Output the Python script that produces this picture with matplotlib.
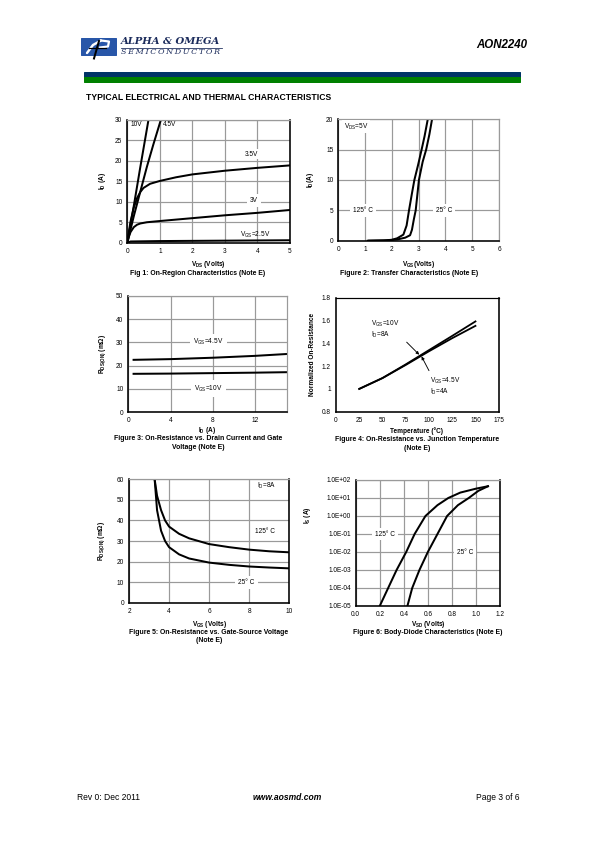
import matplotlib
matplotlib.use("Agg")
import matplotlib.pyplot as plt
from matplotlib.patches import Rectangle
from matplotlib.lines import Line2D

plt.rcParams['font.family'] = ['Liberation Sans', 'DejaVu Sans']
plt.rcParams['mathtext.default'] = 'regular'

W, H = 595, 842
GRID = '#9a9a9a'

# ---- data ----
# Fig 1: on-region characteristics, VDS (V) vs ID (A)
vds_10v = [0, 0.2, 0.4, 0.65]
id_10v = [0, 9, 18.5, 30]
vds_45v = [0, 0.2, 0.4, 0.6, 0.8, 1.03]
id_45v = [0, 6.5, 12.5, 18.5, 24, 30]
vds_35v = [0, 0.05, 0.1, 0.2, 0.3, 0.4, 0.5, 0.7, 1.0, 1.5, 2, 3, 4, 5]
id_35v = [0, 2.8, 5.2, 8.6, 10.9, 12.4, 13.4, 14.4, 15.1, 16.0, 16.7, 17.6, 18.3, 18.9]
vds_3v = [0, 0.05, 0.1, 0.2, 0.3, 0.4, 0.6, 1, 2, 3, 4, 5]
id_3v = [0, 1.5, 2.6, 3.8, 4.4, 4.7, 5.0, 5.3, 6.0, 6.7, 7.3, 8.0]
vds_25v = [0, 0.1, 1, 3, 5]
id_25v = [0, 0.3, 0.4, 0.5, 0.6]

# Fig 2: transfer characteristics, VGS (V) vs ID (A)
vgs_25c = [1.15, 1.8, 2.2, 2.5, 2.68, 2.75, 2.82, 2.89, 3.01, 3.15, 3.28, 3.4, 3.5]
id_25c = [0, 0.05, 0.2, 0.5, 0.9, 1.8, 3.5, 5, 10, 13, 15, 17.5, 20]
vgs_125c = [1.1, 1.7, 2.0, 2.2, 2.43, 2.55, 2.64, 2.75, 2.84, 2.98, 3.11, 3.22, 3.34]
id_125c = [0, 0.05, 0.15, 0.4, 1.0, 2.5, 5, 7.8, 10, 12.5, 15, 17.2, 20]

# Fig 3: RDS(ON) (mOhm) vs ID (A)
id_f3 = [0.5, 4, 8, 12, 15]
rds_45v = [22.5, 22.8, 23.4, 24.2, 25.0]
rds_10v = [16.5, 16.6, 16.8, 17.0, 17.2]

# Fig 4: normalized on-resistance vs temperature (C)
temp = [25, 50, 75, 100, 125, 150]
rn_10v = [1.0, 1.095, 1.215, 1.34, 1.465, 1.592]
rn_45v = [1.0, 1.095, 1.21, 1.33, 1.445, 1.553]

# Fig 5: RDS(ON) (mOhm) vs VGS (V), ID=8A
vgs_f5 = [3.28, 3.4, 3.6, 3.8, 4, 4.5, 5, 6, 7, 8, 9, 10]
rds_125c = [60, 52, 45, 40, 37, 33.5, 31.3, 28.5, 27, 25.8, 25, 24.5]
rds_25c = [60, 45, 35, 30, 27, 23.5, 21.5, 19.5, 18.4, 17.6, 17.1, 16.7]

# Fig 6: body-diode characteristics, VSD (V) vs IS (A)
vsd_125c = [0.2, 0.27, 0.34, 0.42, 0.49, 0.58, 0.68, 0.77, 0.87, 1.0, 1.1]
is_125c = [1e-5, 1e-4, 1e-3, 1e-2, 1e-1, 1e0, 4e0, 1e1, 2e1, 3.3e1, 4.5e1]
vsd_25c = [0.43, 0.47, 0.53, 0.60, 0.68, 0.76, 0.85, 0.94, 1.02, 1.1]
is_25c = [1e-5, 1e-4, 1e-3, 1e-2, 1e-1, 1e0, 4e0, 1e1, 2.5e1, 4.5e1]
f6_yticks = [1e-5, 1e-4, 1e-3, 1e-2, 1e-1, 1e0, 1e1, 1e2]
f6_ylabels = ['1.0E-05', '1.0E-04', '1.0E-03', '1.0E-02', '1.0E-01',
              '1.0E+00', '1.0E+01', '1.0E+02']

fig = plt.figure(figsize=(W / 72, H / 72), dpi=72)

TICK = 6.5
LBL = 6.5
CAP = 6.9


def px_axes(x0, y0, x1, y1):
    return fig.add_axes([x0 / W, 1 - y1 / H, (x1 - x0) / W, (y1 - y0) / H])


def ftext(x, y, s, **kw):
    kw.setdefault('fontsize', CAP)
    kw.setdefault('ha', 'center')
    kw.setdefault('va', 'center')
    fig.text(x / W, 1 - y / H, s, **kw)


def style(ax, grid=True, right='black'):
    for side in ['left', 'bottom']:
        ax.spines[side].set_color('black')
        ax.spines[side].set_linewidth(1.6)
    ax.spines['top'].set_color(GRID)
    ax.spines['top'].set_linewidth(1.2)
    ax.spines['right'].set_color(right)
    ax.spines['right'].set_linewidth(1.6 if right == 'black' else 1.2)
    ax.tick_params(length=0, labelsize=TICK, pad=5)
    if grid:
        ax.grid(True, color=GRID, lw=1.2)
        ax.set_axisbelow(True)


def wbox(pad=3):
    return dict(facecolor='white', edgecolor='none', pad=pad)


# ---- header ----
logo = px_axes(80, 36, 118, 60)
logo.set_xlim(0, 38)
logo.set_ylim(24, 0)
logo.axis('off')
logo.add_patch(Rectangle((0.7, 1.7), 35.3, 17.3, color='#2856a8'))
logo.plot([7, 13, 21], [17, 9, 4.5], color='white', lw=2.4, solid_capstyle='round')
logo.plot([21, 29, 28, 20], [4.5, 5.5, 10.5, 11.5], color='white', lw=2.2)
logo.plot([14, 19], [22.5, 5], color='black', lw=2)
logo.plot([9, 26], [11.5, 11.5], color='black', lw=1.2)
ftext(121, 41.5, 'ALPHA & OMEGA', fontsize=10, ha='left', family='DejaVu Serif',
      weight='bold', style='italic', color='#1c2c5c')
fig.add_artist(Line2D([121 / W, 222 / W], [1 - 47.5 / H, 1 - 47.5 / H], color='#1c2c5c', lw=0.8))
ftext(121, 52.5, '\u2009'.join('SEMICONDUCTOR'), fontsize=8, ha='left',
      family='DejaVu Serif', style='italic', color='#1c2c5c')
ftext(527, 45, 'AON2240', fontsize=11.5, ha='right', weight='bold', style='italic')
fig.add_artist(Rectangle((84 / W, 1 - 77.3 / H), 436 / W, 5 / H, color='#003366'))
fig.add_artist(Rectangle((84 / W, 1 - 81.8 / H), 436 / W, 4.5 / H, color='#008000'))
ftext(86, 98, 'TYPICAL ELECTRICAL AND THERMAL CHARACTERISTICS', fontsize=8.6,
      ha='left', weight='bold')

# ---- Fig 1 ----
ax1 = px_axes(127.3, 120, 290, 242.7)
style(ax1)
for x, y in [(vds_10v, id_10v), (vds_45v, id_45v), (vds_35v, id_35v),
             (vds_3v, id_3v), (vds_25v, id_25v)]:
    ax1.plot(x, y, color='black', lw=2)
ax1.set_xlim(0, 5)
ax1.set_ylim(0, 30)
ax1.set_xticks(range(0, 6))
ax1.set_yticks(range(0, 31, 5))
ax1.text(0.1, 28.8, '10V', fontsize=LBL, va='center')
ax1.text(1.1, 28.8, '4.5V', fontsize=LBL, va='center')
ax1.text(3.8, 21.6, '3.5V', fontsize=LBL, ha='center', va='center', bbox=wbox(1.5))
ax1.text(3.88, 10.4, '3V', fontsize=LBL, ha='center', va='center', bbox=wbox())
ax1.text(3.92, 1.9, 'V$_{GS}$=2.5V', fontsize=LBL, ha='center', va='center')
ftext(208, 264, 'V$_{DS}$ (Volts)', weight='bold', fontsize=LBL)
ftext(103, 181, 'I$_D$ (A)', weight='bold', fontsize=LBL, rotation=90)
ftext(198, 273, 'Fig 1: On-Region Characteristics (Note E)', weight='bold')

# ---- Fig 2 ----
ax2 = px_axes(338.3, 119.3, 499, 240.7)
style(ax2, right=GRID)
ax2.plot(vgs_125c, id_125c, color='black', lw=2)
ax2.plot(vgs_25c, id_25c, color='black', lw=2)
ax2.set_xlim(0, 6)
ax2.set_ylim(0, 20)
ax2.set_xticks(range(0, 7))
ax2.set_yticks(range(0, 21, 5))
ax2.text(0.2, 18.8, 'V$_{DS}$=5V', fontsize=LBL, va='center', bbox=wbox(1.5))
ax2.text(0.93, 5, '125° C', fontsize=LBL, ha='center', va='center', bbox=wbox())
ax2.text(3.95, 5, '25° C', fontsize=LBL, ha='center', va='center', bbox=wbox())
ftext(419, 264, 'V$_{GS}$(Volts)', weight='bold', fontsize=LBL)
ftext(311, 180, 'I$_D$(A)', weight='bold', fontsize=LBL, rotation=90)
ftext(409, 273, 'Figure 2: Transfer Characteristics (Note E)', weight='bold')

# ---- Fig 3 ----
ax3 = px_axes(128.3, 295.7, 286.7, 412.3)
style(ax3, right=GRID)
ax3.plot(id_f3, rds_45v, color='black', lw=2)
ax3.plot(id_f3, rds_10v, color='black', lw=2)
ax3.set_xlim(0, 15)
ax3.set_ylim(0, 50)
ax3.set_xticks([0, 4, 8, 12])
ax3.set_yticks(range(0, 51, 10))
ax3.text(7.6, 30, 'V$_{GS}$=4.5V', fontsize=LBL, ha='center', va='center', bbox=wbox())
ax3.text(7.6, 10.2, 'V$_{GS}$=10V', fontsize=LBL, ha='center', va='center', bbox=wbox())
ftext(207, 430, 'I$_D$ (A)', weight='bold', fontsize=LBL)
ftext(103, 354, 'R$_{DS(ON)}$ (mΩ)', weight='bold', fontsize=LBL, rotation=90)
ftext(198, 439, 'Figure 3: On-Resistance vs. Drain Current and Gate', weight='bold')
ftext(198, 447.5, 'Voltage (Note E)', weight='bold')

# ---- Fig 4 ----
ax4 = px_axes(336, 297.7, 498.7, 411.7)
style(ax4, grid=False)
ax4.spines['top'].set_color('black')
ax4.plot(temp, rn_10v, color='black', lw=1.8)
ax4.plot(temp, rn_45v, color='black', lw=1.8)
ax4.set_xlim(0, 175)
ax4.set_ylim(0.8, 1.8)
ax4.set_xticks(range(0, 176, 25))
ax4.set_yticks([0.8, 1.0, 1.2, 1.4, 1.6, 1.8])
ax4.set_yticklabels(['0.8', '1', '1.2', '1.4', '1.6', '1.8'])
ax4.text(38, 1.525, 'V$_{GS}$=10V\nI$_D$=8A', fontsize=LBL, va='center', linespacing=1.1)
ax4.text(101, 1.025, 'V$_{GS}$=4.5V\nI$_D$=4A', fontsize=LBL, va='center', linespacing=1.1)
arrow = dict(arrowstyle='-|>', color='black', lw=0.9, mutation_scale=6,
             shrinkA=0, shrinkB=0)
ax4.annotate('', xy=(89.5, 1.3), xytext=(76, 1.41), arrowprops=arrow)
ax4.annotate('', xy=(92, 1.285), xytext=(100, 1.16), arrowprops=arrow)
ftext(417, 431, 'Temperature (°C)', weight='bold', fontsize=LBL)
ftext(312, 354, 'Normalized On-Resistance', weight='bold', fontsize=LBL, rotation=90)
ftext(417, 440, 'Figure 4: On-Resistance vs. Junction Temperature', weight='bold')
ftext(417, 448.5, '(Note E)', weight='bold')

# ---- Fig 5 ----
ax5 = px_axes(129, 479.3, 289.3, 602.7)
style(ax5)
ax5.plot(vgs_f5, rds_125c, color='black', lw=2)
ax5.plot(vgs_f5, rds_25c, color='black', lw=2)
ax5.set_xlim(2, 10)
ax5.set_ylim(0, 60)
ax5.set_xticks(range(2, 11, 2))
ax5.set_yticks(range(0, 61, 10))
ax5.text(8.37, 56.8, 'I$_D$=8A', fontsize=LBL, va='center')
ax5.text(8.8, 34.6, '125° C', fontsize=LBL, ha='center', va='center', bbox=wbox(1.5))
ax5.text(7.87, 10, '25° C', fontsize=LBL, ha='center', va='center', bbox=wbox())
ftext(209, 624, 'V$_{GS}$ (Volts)', weight='bold', fontsize=LBL)
ftext(102, 541, 'R$_{DS(ON)}$ (mΩ)', weight='bold', fontsize=LBL, rotation=90)
ftext(209, 632, 'Figure 5: On-Resistance vs. Gate-Source Voltage', weight='bold')
ftext(209, 640.5, '(Note E)', weight='bold')

# ---- Fig 6 ----
ax6 = px_axes(355.7, 480, 500, 606)
style(ax6)
ax6.set_yscale('log')
ax6.plot(vsd_125c, is_125c, color='black', lw=2)
ax6.plot(vsd_25c, is_25c, color='black', lw=2)
ax6.set_xlim(0, 1.2)
ax6.set_ylim(1e-5, 1e2)
ax6.set_xticks([0, 0.2, 0.4, 0.6, 0.8, 1.0, 1.2])
ax6.set_xticklabels(['0.0', '0.2', '0.4', '0.6', '0.8', '1.0', '1.2'])
ax6.set_yticks(f6_yticks)
ax6.set_yticklabels(f6_ylabels)
ax6.minorticks_off()
ax6.tick_params(which='both', length=0)
ax6.grid(True, which='major', color=GRID, lw=1.2)
ax6.text(0.24, 1e-1, '125° C', fontsize=LBL, ha='center', va='center', bbox=wbox())
ax6.text(0.91, 1e-2, '25° C', fontsize=LBL, ha='center', va='center', bbox=wbox())
ftext(428, 625, 'V$_{SD}$ (Volts)', weight='bold', fontsize=LBL)
ftext(307, 515, 'I$_S$ (A)', weight='bold', fontsize=LBL, rotation=90)
ftext(428, 633, 'Figure 6: Body-Diode Characteristics (Note E)', weight='bold')

# ---- footer ----
ftext(77, 797, 'Rev 0: Dec 2011', fontsize=8.5, ha='left')
ftext(287, 797, 'www.aosmd.com', fontsize=8.5, weight='bold', style='italic')
ftext(519, 797, 'Page 3 of 6', fontsize=8.5, ha='right')

fig.savefig('out.png', dpi=72, facecolor='white')
